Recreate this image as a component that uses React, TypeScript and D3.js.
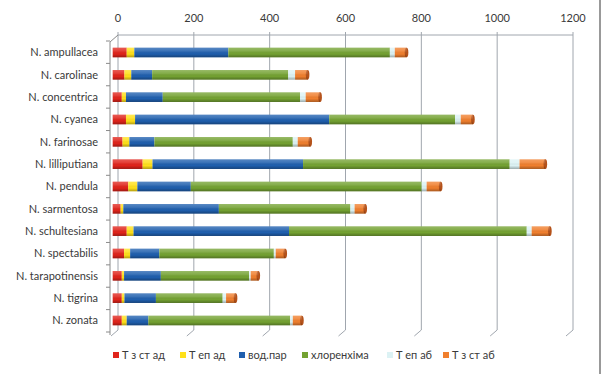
import React from "react";
import * as d3 from "d3";

const categories = [
  "N. ampullacea",
  "N. carolinae",
  "N. concentrica",
  "N. cyanea",
  "N. farinosae",
  "N. lilliputiana",
  "N. pendula",
  "N. sarmentosa",
  "N. schultesiana",
  "N. spectabilis",
  "N. tarapotinensis",
  "N. tigrina",
  "N. zonata",
];

const seriesNames = ["Т з ст ад", "Т еп ад", "вод.пар", "хлоренхіма", "Т еп аб", "Т з ст аб"];
const seriesColors = ["#e0241b", "#ffe01a", "#1f5fae", "#74a232", "#dcf2f4", "#f07f2e"];
const seriesEnds = ["#9e150f", "#c8a800", "#123c70", "#4b6c1e", "#a9c6c9", "#b5521a"];

// values per series, same order as categories
const tZStAd = [37, 31, 24, 35, 26, 79, 41, 21, 37, 30, 24, 24, 24];
const tEpAd = [20, 18, 11, 24, 18, 26, 24, 7, 18, 16, 6, 7, 13];
const vodPar = [248, 55, 97, 512, 66, 397, 141, 252, 410, 77, 97, 83, 57];
const chlorenchyma = [426, 359, 362, 332, 365, 545, 609, 347, 627, 302, 233, 176, 374];
const tEpAb = [13, 18, 15, 15, 13, 26, 13, 11, 13, 5, 4, 9, 7];
const tZStAb = [31, 33, 38, 32, 33, 68, 37, 28, 48, 25, 20, 25, 24];

const xTicks = [0, 200, 400, 600, 800, 1000, 1200];

const W = 603;
const H = 374;
const FONT = "Lato, 'Open Sans', sans-serif";
const TEXT = "#3a3a3a";

export default function App() {
  const rows = categories.map((c, i) => ({
    cat: c,
    s0: tZStAd[i],
    s1: tEpAd[i],
    s2: vodPar[i],
    s3: chlorenchyma[i],
    s4: tEpAb[i],
    s5: tZStAb[i],
  }));
  const keys = ["s0", "s1", "s2", "s3", "s4", "s5"];
  const stacked = d3.stack<any>().keys(keys)(rows);

  const x = d3.scaleLinear().domain([0, 1200]).range([118, 573]);
  const y = d3.scaleBand().domain(categories).range([41, 332]).paddingInner(0.57).paddingOuter(0.3);
  const yBand = d3.scaleBand().domain(categories).range([41, 332]);

  // 3D depth shift of the front face
  const dx = -5.3;
  const top = 35;
  const bottom = 330;
  const bh = y.bandwidth();

  return (
    <svg
      width={W}
      height={H}
      style={{ position: "absolute", left: 0, top: 0, background: "#fff" }}
      fontFamily={FONT}
    >
      <defs>
        <linearGradient id="shade" x1="0" y1="0" x2="0" y2="1">
          <stop offset="0" stopColor="#fff" stopOpacity={0.25} />
          <stop offset="0.35" stopColor="#fff" stopOpacity={0.12} />
          <stop offset="0.65" stopColor="#000" stopOpacity={0} />
          <stop offset="1" stopColor="#000" stopOpacity={0.3} />
        </linearGradient>
      </defs>

      {/* back wall gridlines */}
      {xTicks.map((t) => (
        <g key={t}>
          <line x1={x(t)} x2={x(t)} y1={top - 3} y2={bottom} stroke="#a0a6ae" strokeWidth={1} />
          <line x1={x(t)} x2={x(t) - 7} y1={bottom} y2={bottom + 6} stroke="#a0a6ae" strokeWidth={1} />
          <text x={x(t)} y={22} textAnchor="middle" fontSize={11} fill={TEXT}>
            {t}
          </text>
        </g>
      ))}
      <line x1={x(0)} x2={x(1200)} y1={top} y2={top} stroke="#a0a6ae" />
      <line x1={x(0)} x2={x(0) - 8} y1={top} y2={top + 7} stroke="#8a8a8a" />

      {/* front category axis */}
      <line x1={110} x2={110} y1={42} y2={335} stroke="#8a8a8a" />
      {categories.map((c) => (
        <line key={c} x1={106} x2={110} y1={yBand(c)!} y2={yBand(c)!} stroke="#8a8a8a" />
      ))}
      <line x1={106} x2={110} y1={332} y2={332} stroke="#8a8a8a" />
      {categories.map((c) => (
        <text
          key={c}
          x={98}
          y={y(c)! + bh / 2}
          dy="0.35em"
          textAnchor="end"
          fontSize={11}
          fill={TEXT}
        >
          {c}
        </text>
      ))}

      {/* bars */}
      {stacked.map((layer, li) => (
        <g key={li}>
          {layer.map((d, i) => (
            <rect
              key={i}
              x={x(d[0]) + dx}
              y={y(categories[i])!}
              width={x(d[1]) - x(d[0])}
              height={bh}
              fill={seriesColors[li]}
            />
          ))}
        </g>
      ))}
      {stacked[stacked.length - 1].map((d, i) => (
        <ellipse
          key={i}
          cx={x(d[1]) + dx}
          cy={y(categories[i])! + bh / 2}
          rx={1.8}
          ry={bh / 2}
          fill={seriesEnds[5]}
        />
      ))}
      {stacked[stacked.length - 1].map((d, i) => (
        <rect
          key={i}
          x={x(0) + dx}
          y={y(categories[i])!}
          width={x(d[1]) - x(0)}
          height={bh}
          fill="url(#shade)"
        />
      ))}

      {/* legend */}
      {seriesNames.map((name, i) => {
        const lx = [113, 180, 239, 302, 387, 443][i];
        return (
          <g key={name} transform={`translate(${lx},355)`}>
            <rect x={0} y={-3} width={6} height={6} fill={seriesColors[i]} />
            <text x={9} y={0} dy="0.35em" fontSize={11} fill={TEXT}>
              {name}
            </text>
          </g>
        );
      })}

      {/* right border */}
      <line x1={600} x2={600} y1={0} y2={H} stroke="#555" strokeWidth={1.2} />
    </svg>
  );
}
